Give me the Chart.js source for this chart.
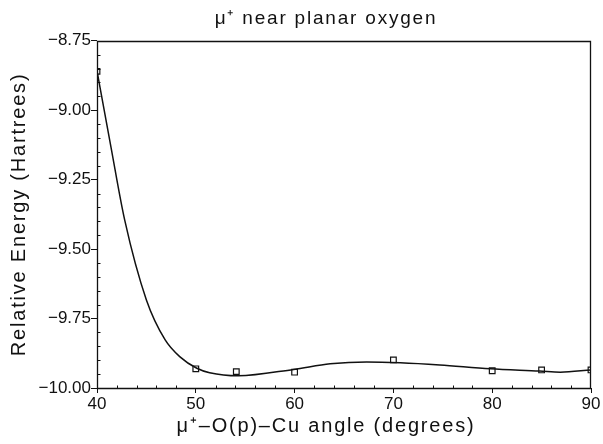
<!DOCTYPE html>
<html>
<head>
<meta charset="utf-8">
<script src="https://cdn.jsdelivr.net/npm/chart.js@4.4.0/dist/chart.umd.min.js"></script>
<style>
  html, body { margin: 0; padding: 0; background: #fff; }
  #wrap { width: 603px; height: 444px; }
</style>
</head>
<body>
<div id="wrap"><canvas id="energyChart" width="603" height="444"></canvas></div>
<script>
// --------------------------------------------------- DATA
// fitted curve
const curveAngle = [40, 41.4, 42.8, 45.0, 46.9, 48.4, 50.1, 51.4, 54.3, 59.9, 63.6, 67.3, 70.7, 74.7, 79.8, 84.8, 86.9, 90]
const curveEnergy = [-8.858, -9.13, -9.395, -9.683, -9.827, -9.888, -9.929, -9.945, -9.956, -9.933, -9.913, -9.906, -9.909, -9.917, -9.931, -9.939, -9.943, -9.935]

// computed points (open squares)
const pointAngle = [40, 50, 54.1, 60, 70, 80, 85, 90]
const pointEnergy = [-8.86, -9.931, -9.941, -9.943, -9.899, -9.938, -9.935, -9.935]

const xTicks = [40, 50, 60, 70, 80, 90]
const yTicks = [-10.00, -9.75, -9.50, -9.25, -9.00, -8.75]

const FONT = "'Liberation Sans', Arial, sans-serif"
const INK = '#111'
const TEXT_CENTER = 326   // the titles sit a bit left of the plot centre

// --------------------------------------------------- PLUGINS
// titles are widely spaced, tick numbers are not
const spacing = {
  id: 'spacing',
  beforeLayout(chart) { chart.ctx.letterSpacing = '0px' },
  afterLayout(chart) {
    const t = chart.titleBlock
    const dt = TEXT_CENTER - (t.left + t.right) / 2
    t.left += dt
    t.right += dt
    // move only the x axis title, not the axis itself
    const x = chart.scales.x
    if (!x.shiftedTitle) {
      const drawTitle = x.drawTitle
      x.drawTitle = function () {
        const l = this.left
        const r = this.right
        const d = TEXT_CENTER - (l + r) / 2
        this.left = l + d
        this.right = r + d
        drawTitle.call(this)
        this.left = l
        this.right = r
      }
      x.shiftedTitle = true
    }
  },
  beforeDraw(chart) { chart.ctx.letterSpacing = '1.8px' },
  afterDatasetsDraw(chart) { chart.ctx.letterSpacing = '0px' }
}

const frameAndMinorTicks = {
  id: 'frameAndMinorTicks',
  afterDraw(chart) {
    const { ctx, chartArea: a, scales } = chart
    const l = Math.round(a.left) + 0.5
    const r = Math.round(a.right) - 0.5
    const t = Math.round(a.top) + 0.5
    const b = Math.round(a.bottom) + 0.5
    ctx.save()
    ctx.strokeStyle = INK
    ctx.lineWidth = 1.3
    ctx.beginPath()
    ctx.moveTo(l, t)
    ctx.lineTo(r, t)
    ctx.lineTo(r, b)
    ctx.lineTo(l, b)
    ctx.closePath()
    ctx.stroke()
    ctx.lineWidth = 1
    ctx.beginPath()
    for (let v = 42; v < 90; v += 2) {
      if (v % 10 === 0) continue
      const px = Math.round(scales.x.getPixelForValue(v)) + 0.5
      ctx.moveTo(px, b)
      ctx.lineTo(px, b - 3)
    }
    for (let i = 1; i < 25; i++) {
      if (i % 5 === 0) continue
      const py = Math.round(scales.y.getPixelForValue(-10 + i * 0.05)) + 0.5
      ctx.moveTo(l, py)
      ctx.lineTo(l + 3, py)
    }
    ctx.stroke()
    ctx.restore()
  }
}

// --------------------------------------------------- CHART
const energyChart = new Chart(document.getElementById('energyChart'), {
  type: 'scatter',
  data: {
    datasets: [
      {
        label: 'fit',
        data: curveAngle.map((a, i) => ({ x: a, y: curveEnergy[i] })),
        showLine: true,
        borderColor: INK,
        borderWidth: 1.5,
        pointRadius: 0,
        cubicInterpolationMode: 'monotone',
        fill: false
      },
      {
        label: 'points',
        data: pointAngle.map((a, i) => ({ x: a, y: pointEnergy[i] })),
        showLine: false,
        pointStyle: 'rect',
        pointRadius: 4,
        borderColor: INK,
        borderWidth: 1.2,
        backgroundColor: '#fff',
        clip: 0
      }
    ]
  },
  options: {
    responsive: false,
    animation: false,
    layout: { padding: { left: 0, right: 12, top: 0, bottom: 0 } },
    plugins: {
      legend: { display: false },
      tooltip: { enabled: false },
      title: {
        display: true,
        text: 'μ⁺ near planar oxygen',
        color: INK,
        font: { family: FONT, size: 19, weight: 'normal' },
        padding: { top: 7, bottom: 11 }
      }
    },
    scales: {
      x: {
        type: 'linear',
        min: 40,
        max: 90,
        afterBuildTicks: scale => { scale.ticks = xTicks.map(v => ({ value: v })) },
        afterFit: scale => { scale.height = 56 },
        grid: { drawOnChartArea: false, tickLength: 5, color: INK },
        border: { display: false },
        ticks: {
          color: INK,
          padding: 1,
          z: 1,
          maxRotation: 0,
          font: { family: FONT, size: 17 },
          callback: v => String(v)
        },
        title: {
          display: true,
          text: 'μ⁺–O(p)–Cu angle (degrees)',
          color: INK,
          font: { family: FONT, size: 20 },
          padding: { top: 0, bottom: 6 }
        }
      },
      y: {
        type: 'linear',
        min: -10,
        max: -8.75,
        afterBuildTicks: scale => { scale.ticks = yTicks.map(v => ({ value: v })) },
        afterFit: scale => { scale.width = 97 },
        grid: { drawOnChartArea: false, tickLength: 6, color: INK },
        border: { display: false },
        ticks: {
          color: INK,
          padding: 0,
          z: 1,
          font: { family: FONT, size: 17 },
          callback: v => '−' + Math.abs(v).toFixed(2)
        },
        title: {
          display: true,
          text: 'Relative Energy (Hartrees)',
          color: INK,
          font: { family: FONT, size: 20 },
          padding: { top: 7, bottom: 4 }
        }
      }
    }
  },
  plugins: [spacing, frameAndMinorTicks]
})
</script>
</body>
</html>
